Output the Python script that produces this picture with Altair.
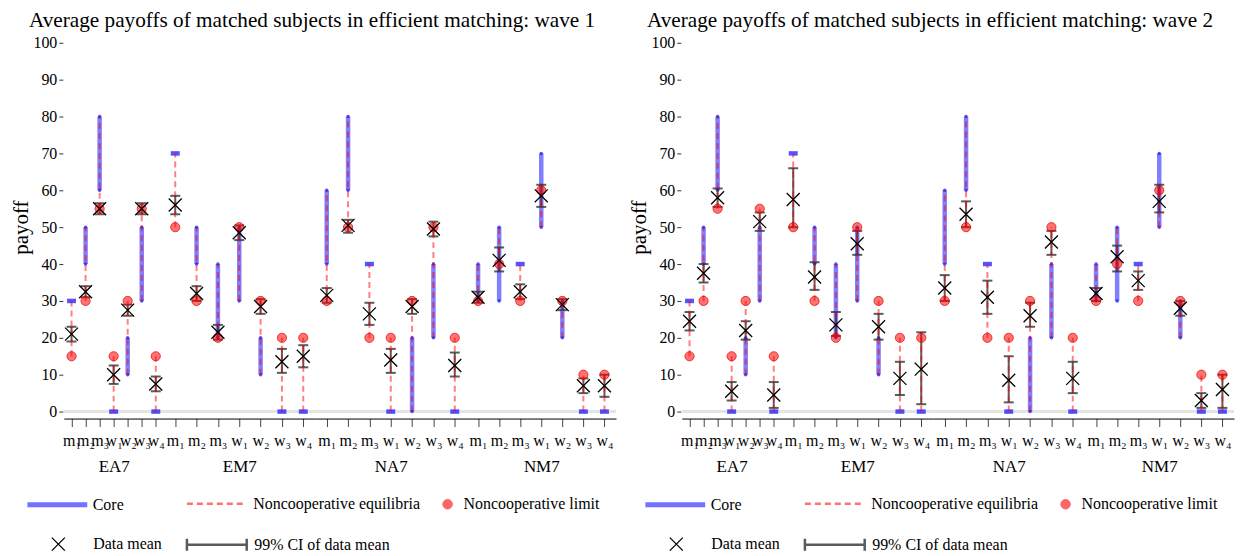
import altair as alt
import pandas as pd

groups = ["EA7", "EM7", "NA7", "NM7"]
roles = ["m₁", "m₂", "m₃", "w₁", "w₂", "w₃", "w₄"]

core_lo = {"EA7": [30, 40, 60, 0, 10, 30, 0], "EM7": [70, 40, 20, 30, 10, 0, 0],
           "NA7": [40, 60, 40, 0, 0, 20, 0], "NM7": [30, 30, 40, 50, 20, 0, 0]}
core_hi = {"EA7": [30, 50, 80, 0, 20, 50, 0], "EM7": [70, 50, 40, 50, 20, 0, 0],
           "NA7": [60, 80, 40, 0, 20, 40, 0], "NM7": [40, 50, 40, 70, 30, 0, 0]}
ne_lo = {"EA7": [15, 30, 55, 0, 10, 30, 0], "EM7": [50, 30, 20, 30, 10, 0, 0],
         "NA7": [30, 50, 20, 0, 0, 20, 0], "NM7": [30, 40, 30, 50, 20, 0, 0]}
ne_hi = {"EA7": [30, 50, 80, 15, 30, 55, 15], "EM7": [70, 50, 40, 50, 30, 20, 20],
         "NA7": [60, 80, 40, 20, 30, 50, 20], "NM7": [40, 50, 40, 60, 30, 10, 10]}
nc_limit = {"EA7": [15, 30, 55, 15, 30, 55, 15], "EM7": [50, 30, 20, 50, 30, 20, 20],
            "NA7": [30, 50, 20, 20, 30, 50, 20], "NM7": [30, 40, 30, 60, 30, 10, 10]}

mean_w1 = {"EA7": [21, 32.5, 55, 10, 27.5, 55, 7.5], "EM7": [56, 32, 21.5, 48.5, 28.5, 13.5, 15],
           "NA7": [31.5, 50.5, 26.5, 14, 28.5, 49.5, 12.5], "NM7": [31, 41, 32.5, 58.5, 29, 7, 7]}
ci_lo_w1 = {"EA7": [19, 31, 53.5, 7.5, 26, 53.5, 5.5], "EM7": [53.5, 30, 19.5, 46.5, 26.5, 10.5, 12],
            "NA7": [29.5, 48.5, 23.5, 10.5, 26.5, 47.5, 9.5], "NM7": [29.5, 38, 30.5, 55.5, 27.5, 5, 4]}
ci_hi_w1 = {"EA7": [23, 34, 56.5, 12.5, 29, 56.5, 9.5], "EM7": [58.5, 34, 23.5, 50.5, 30.5, 17, 18],
            "NA7": [33.5, 52, 29.5, 17, 30.5, 51.5, 16], "NM7": [32.5, 44.5, 34.5, 61.5, 30.5, 9, 10]}
mean_w2 = {"EA7": [24.5, 37.5, 58, 5.5, 22, 51.5, 4.5], "EM7": [57.5, 36.5, 23.5, 45.5, 23, 9, 11.5],
           "NA7": [33.5, 53.5, 31, 8.5, 26, 46, 9], "NM7": [32, 42, 35.5, 57, 28, 3, 6]}
ci_lo_w2 = {"EA7": [22, 35, 55.5, 3, 19.5, 49, 1], "EM7": [50, 33, 20.5, 42.5, 19.5, 4.5, 2],
            "NA7": [30, 50, 26.5, 2.5, 23, 42.5, 5], "NM7": [30, 38, 33, 54, 26, 1, 1]}
ci_hi_w2 = {"EA7": [27, 40, 60.5, 8, 24.5, 54, 8], "EM7": [66, 40.5, 27, 49, 26.5, 13.5, 21.5],
            "NA7": [37, 57, 35.5, 15, 29.5, 49, 13.5], "NM7": [33.5, 45, 38, 61.5, 30, 5, 10]}

waves = {1: (mean_w1, ci_lo_w1, ci_hi_w1), 2: (mean_w2, ci_lo_w2, ci_hi_w2)}
panel_widths = {"EA7": 100, "EM7": 152, "NA7": 152, "NM7": 150}

SERIF = "Liberation Serif"
XPATH = "M-1,-1L1,1M-1,1L1,-1"
CIPATH = "M-1,0L1,0M-1,-0.2L-1,0.2M1,-0.2L1,0.2"
LBL = dict(title=None, orient="none", padding=0, labelFont=SERIF, labelFontSize=16,
           labelColor="black", labelLimit=400)
ROW1, ROW2 = 464, 505   # row centres, relative to the plot top
BIG, SMALL = 33, 9


def frame(g, wave):
    mean, lo, hi = waves[wave]
    return pd.DataFrame({
        "role": roles, "core_lo": core_lo[g], "core_hi": core_hi[g],
        "ne_lo": ne_lo[g], "ne_hi": ne_hi[g], "limit": nc_limit[g],
        "mean": mean[g], "ci_lo": lo[g], "ci_hi": hi[g],
        "k_core": "Core", "k_ne": "Noncooperative equilibria",
        "k_lim": "Noncooperative limit", "k_mean": "Data mean",
        "k_ci": "99% CI of data mean",
    })


def panel(g, wave):
    first = g == groups[0]
    base = alt.Chart(frame(g, wave))
    ysc = alt.Scale(domain=[0, 100])
    x = alt.X("role:N", sort=roles,
              scale=alt.Scale(type="point", domain=roles, padding=0.55),
              axis=alt.Axis(title=g, titleFont=SERIF, titleFontSize=17, titleFontWeight="normal",
                            labelFont=SERIF, labelFontSize=16, labelAngle=0,
                            labelOverlap=False, labelFlush=False, labelBound=False,
                            tickSize=8, offset=7, domainColor="black", tickColor="#444",
                            labelPadding=6, titlePadding=10))

    yaxis = None
    if first:
        yaxis = alt.Axis(title="payoff", titleFont=SERIF, titleFontSize=21, titleFontWeight="normal",
                         labelFont=SERIF, labelFontSize=16,
                         values=list(range(0, 101, 10)), tickSize=4, labelPadding=2,
                         domain=False, tickColor="#333", titlePadding=1, offset=1)

    def Y(field):
        return alt.Y(f"{field}:Q", scale=ysc, axis=yaxis, title="payoff" if first else None)

    if first:
        core_stroke = alt.Stroke("k_core:N", scale=alt.Scale(range=["#0000ff"]),
                                 legend=alt.Legend(legendX=-39, legendY=ROW1 - BIG, symbolType="stroke",
                                                   symbolSize=3600, symbolStrokeWidth=5,
                                                   symbolOpacity=0.55, labelOffset=3, **LBL))
        ne_dash = alt.StrokeDash("k_ne:N", scale=alt.Scale(range=[[6, 4]]),
                                 legend=alt.Legend(legendX=122, legendY=ROW1 - BIG, symbolType="stroke",
                                                   symbolSize=3600, symbolStrokeWidth=2.5,
                                                   symbolStrokeColor="#ff0000", symbolOpacity=0.55,
                                                   labelOffset=5, **LBL))
        lim_fill = alt.Fill("k_lim:N", scale=alt.Scale(range=["#ff0000"]),
                            legend=alt.Legend(legendX=377, legendY=ROW1 - SMALL, symbolType="circle",
                                              symbolSize=90, symbolStrokeColor="#e00000",
                                              symbolStrokeWidth=1, symbolOpacity=0.6,
                                              labelOffset=8, **LBL))
        ci_color = alt.Color("k_ci:N", scale=alt.Scale(range=["#333333"]),
                             legend=alt.Legend(legendX=122, legendY=ROW2 - BIG, symbolType=CIPATH,
                                               symbolSize=3600, symbolStrokeWidth=2.5,
                                               symbolStrokeColor="#333333", labelOffset=6, **LBL))
    else:
        core_stroke = alt.value("#0000ff")
        ne_dash = alt.value([6, 4])
        lim_fill = alt.value("#ff0000")
        ci_color = alt.value("#333333")

    zero = base.mark_rule(color="#e4e4e4", strokeWidth=2).encode(
        y=alt.YDatum(0, scale=ysc, axis=yaxis, title="payoff" if first else None))
    nondeg = "datum.core_lo < datum.core_hi"
    core = base.transform_filter(nondeg).mark_rule(strokeWidth=4.5, opacity=0.5).encode(
        x=x, y=Y("core_lo"), y2="core_hi", stroke=core_stroke)
    ends_lo = base.transform_filter(nondeg).mark_point(
        filled=True, size=12, color="#2222ff", opacity=0.8).encode(x=x, y=Y("core_lo"))
    ends_hi = base.transform_filter(nondeg).mark_point(
        filled=True, size=12, color="#2222ff", opacity=0.8).encode(x=x, y=Y("core_hi"))
    blob = base.transform_filter("datum.core_lo == datum.core_hi").mark_tick(
        orient="horizontal", size=9, thickness=4.5, color="#1a1aff", opacity=0.75).encode(
        x=x, y=Y("core_lo"))
    ci = base.mark_rule(strokeWidth=2, opacity=0.8).encode(
        x=x, y=Y("ci_lo"), y2="ci_hi", color=ci_color)
    cap_lo = base.mark_tick(orient="horizontal", size=10, thickness=2, color="#333333",
                            opacity=0.8).encode(x=x, y=Y("ci_lo"))
    cap_hi = base.mark_tick(orient="horizontal", size=10, thickness=2, color="#333333",
                            opacity=0.8).encode(x=x, y=Y("ci_hi"))
    ne = base.transform_filter("datum.ne_lo < datum.ne_hi").mark_rule(
        color="#ff0000", opacity=0.5, strokeWidth=2).encode(
        x=x, y=Y("ne_lo"), y2="ne_hi", strokeDash=ne_dash)
    lim = base.mark_point(shape="circle", filled=True, size=85, fillOpacity=0.55,
                          stroke="#e00000", strokeOpacity=0.7, strokeWidth=1).encode(
        x=x, y=Y("limit"), fill=lim_fill)
    mean_kw = dict(x=x, y=Y("mean"))
    if first:
        mean_kw["shape"] = alt.Shape("k_mean:N", scale=alt.Scale(range=[XPATH]),
                                     legend=alt.Legend(legendX=-13.5, legendY=ROW2 - SMALL - 1,
                                                       symbolSize=170, symbolStrokeColor="black",
                                                       symbolStrokeWidth=1.3,
                                                       symbolFillColor="transparent",
                                                       labelOffset=27, **LBL))
    mean = base.mark_point(shape=XPATH, size=170, filled=False, color="black",
                           strokeWidth=1.3, opacity=1).encode(**mean_kw)

    return alt.layer(zero, core, ends_lo, ends_hi, blob, ci, cap_lo, cap_hi, ne, lim, mean).properties(
        width=panel_widths[g], height=370)


RES = dict(stroke="independent", strokeDash="independent", fill="independent",
           shape="independent", color="independent")


def wave_chart(wave):
    return alt.hconcat(*[panel(g, wave) for g in groups], spacing=0, bounds="flush").properties(
        title=alt.TitleParams(
            f"Average payoffs of matched subjects in efficient matching: wave {wave}",
            font=SERIF, fontSize=21.3, fontWeight="normal", color="black", anchor="start",
            frame="group", dx=-35, offset=4, limit=800)
    ).resolve_scale(**RES).resolve_legend(**RES)


chart = alt.hconcat(wave_chart(1), wave_chart(2), spacing=12).resolve_scale(
    **RES).resolve_legend(**RES).properties(
    padding={"left": 3, "top": 0, "right": 0, "bottom": 0}
).configure_view(stroke=None).configure_axis(
    grid=False, labelFont=SERIF, titleFont=SERIF, labelColor="black", titleColor="black",
    titleFontWeight="normal")

chart.save("out.html", embed_options={"renderer": "svg", "actions": False})
